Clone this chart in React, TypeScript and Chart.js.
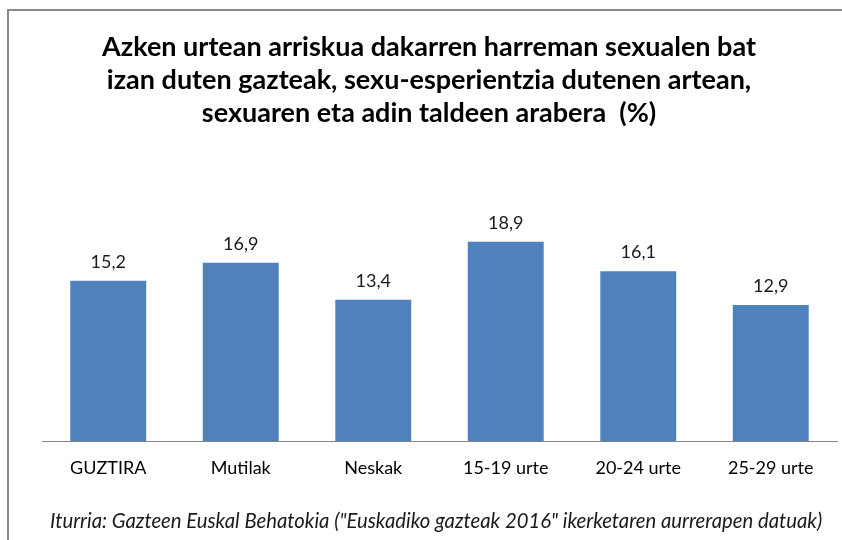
import React, { useEffect, useRef } from 'react';
import { Chart, registerables } from 'chart.js';

Chart.register(...registerables);

const titleLines = [
  'Azken urtean arriskua dakarren harreman sexualen bat',
  'izan duten gazteak, sexu-esperientzia dutenen artean,',
  'sexuaren eta adin taldeen arabera  (%)',
];
const categories = ['GUZTIRA', 'Mutilak', 'Neskak', '15-19 urte', '20-24 urte', '25-29 urte'];
const values = [15.2, 16.9, 13.4, 18.9, 16.1, 12.9];
const sourceText = '   Iturria: Gazteen Euskal Behatokia ("Euskadiko gazteak 2016" ikerketaren aurrerapen datuak)';

const FONT = 'Lato, "Open Sans", sans-serif';

const valueLabels = {
  id: 'valueLabels',
  afterDatasetsDraw(chart: any) {
    const ctx = chart.ctx;
    const meta = chart.getDatasetMeta(0);
    ctx.save();
    ctx.font = `18px ${FONT}`;
    ctx.fillStyle = '#1a1a1a';
    ctx.textAlign = 'center';
    ctx.textBaseline = 'middle';
    meta.data.forEach((bar: any, i: number) => {
      const txt = values[i].toFixed(1).replace('.', ',');
      ctx.fillText(txt, bar.x, bar.y - 19);
    });
    ctx.restore();
  },
};

export default function App() {
  const ref = useRef<HTMLCanvasElement>(null);
  useEffect(() => {
    if (!ref.current) return;
    const chart = new Chart(ref.current, {
      type: 'bar',
      data: {
        labels: categories,
        datasets: [
          {
            data: values,
            backgroundColor: '#4F81BD',
            categoryPercentage: 1,
            barPercentage: 0.573,
          },
        ],
      },
      plugins: [valueLabels],
      options: {
        responsive: false,
        animation: false,
        layout: { padding: { left: 12, right: 5, top: 0, bottom: 0 } },
        plugins: {
          legend: { display: false },
          tooltip: { enabled: false },
          title: {
            display: true,
            text: titleLines,
            color: '#000',
            font: { family: FONT, size: 27, weight: 'bold', lineHeight: 1.222 },
            padding: { top: 19.5, bottom: 30 },
          },
          subtitle: {
            display: true,
            position: 'bottom',
            text: sourceText,
            color: '#1a1a1a',
            font: { family: FONT, size: 20.3, style: 'italic', lineHeight: 1.2 },
            padding: { top: 15, bottom: 6 },
          },
        },
        scales: {
          x: {
            grid: { display: false, drawTicks: false },
            border: { display: true, color: '#868686', width: 1 },
            ticks: { color: '#000', font: { family: FONT, size: 18 }, padding: 16 },
          },
          y: {
            display: true,
            min: 0,
            max: 26.7,
            grid: { display: false, drawTicks: false },
            border: { display: false },
            ticks: { display: false },
            afterFit: (scale: any) => {
              scale.width = 21;
            },
          },
        },
      },
    });
    return () => chart.destroy();
  }, []);
  return (
    <div
      style={{
        position: 'absolute',
        left: 7,
        top: 9,
        width: 835,
        height: 531,
        borderTop: '2px solid #8a8a8a',
        borderLeft: '2px solid #8a8a8a',
        background: '#fff',
      }}
    >
      <canvas ref={ref} width={833} height={529} style={{ display: 'block' }} />
    </div>
  );
}
